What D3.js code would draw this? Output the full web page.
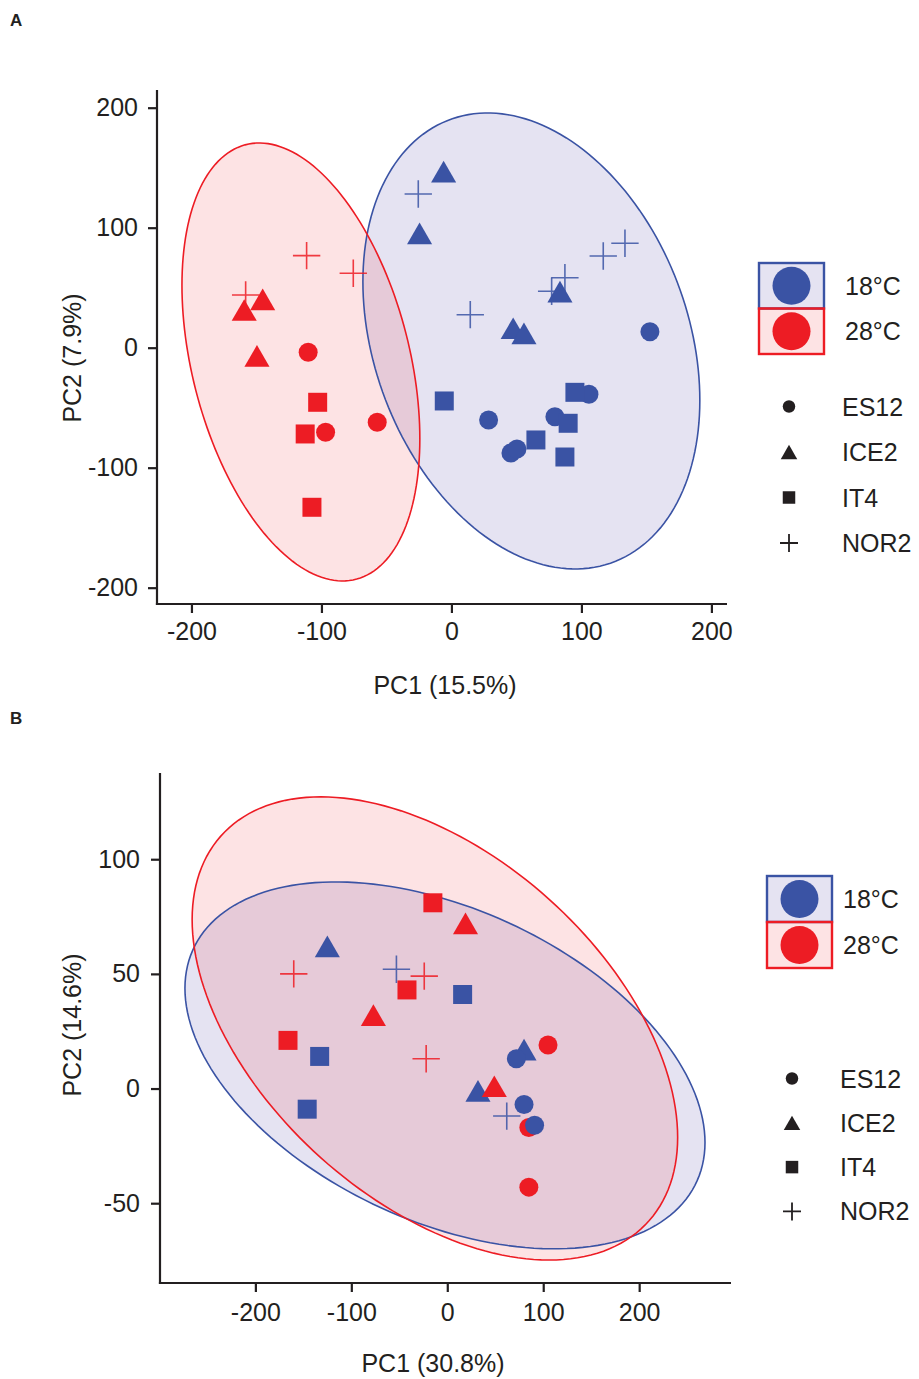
<!DOCTYPE html>
<html><head><meta charset="utf-8">
<script src="https://cdn.jsdelivr.net/npm/d3@7"></script>
<style>
body{margin:0;background:#fff}
text{font-family:"Liberation Sans",Arial,sans-serif;fill:#231f20}
</style>
</head><body>
<svg id="c" width="919" height="1379"></svg>
<script>
// ---------- shared ----------
const strains = ["ES12","ICE2","IT4","NOR2"];
const temps = ["18°C","28°C"];
const tempColors = ["#3a53a4","#ed1c24"];

// ---------- Panel A data ----------
const aXTicks = [-200,-100,0,100,200];
const aYTicks = [-200,-100,0,100,200];
const aTemp   = ["18°C","18°C","18°C","18°C","18°C","18°C",
                 "28°C","28°C","28°C",
                 "18°C","18°C","18°C","18°C","18°C",
                 "28°C","28°C","28°C",
                 "18°C","18°C","18°C","18°C","18°C","18°C",
                 "28°C","28°C","28°C",
                 "18°C","18°C","18°C","18°C","18°C",
                 "28°C","28°C","28°C"];
const aStrain = ["NOR2","NOR2","NOR2","NOR2","NOR2","NOR2",
                 "NOR2","NOR2","NOR2",
                 "ICE2","ICE2","ICE2","ICE2","ICE2",
                 "ICE2","ICE2","ICE2",
                 "ES12","ES12","ES12","ES12","ES12","ES12",
                 "ES12","ES12","ES12",
                 "IT4","IT4","IT4","IT4","IT4",
                 "IT4","IT4","IT4"];
const aPC1 = [-25.5,116.8,133.5,87.3,77.1,14.5,
              -158.3,-111.4,-75.5,
              -6,-24.5,83.5,47.5,55.8,
              -145.2,-159.4,-149.6,
              152.7,105.8,28.6,79.6,45.8,50.4,
              -110.2,-96.8,-57.1,
              -5.5,95,89.8,65,87.3,
              -102.9,-112.5,-107.3];
const aPC2 = [128.1,76.4,87,58.3,47,27.5,
              43.9,76.7,62,
              146.7,95.3,46.7,16.2,12,
              40.3,31.4,-6.9,
              13.3,-38.8,-60.3,-57.5,-87.8,-84.4,
              -3.8,-70.5,-62.2,
              -44.4,-37.2,-63,-76.9,-91.1,
              -45.5,-71.9,-133];
// confidence ellipses: centre, half-extents, correlation
const aEllTemp = ["18°C","28°C"];
const aEllCx = [61.5,-115.8];
const aEllCy = [5.6,-11.9];
const aEllRx = [129.6,91.5];
const aEllRy = [190,182.5];
const aEllR  = [-0.26,-0.35];

// ---------- Panel B data ----------
const bXTicks = [-200,-100,0,100,200];
const bYTicks = [-50,0,50,100];
const bTemp   = ["18°C","18°C","18°C",
                 "28°C","28°C","28°C",
                 "28°C","28°C","28°C",
                 "18°C","18°C",
                 "28°C","28°C","28°C",
                 "18°C","18°C","18°C",
                 "28°C","28°C","28°C",
                 "18°C","18°C","18°C"];
const bStrain = ["ICE2","ICE2","ICE2",
                 "ICE2","ICE2","ICE2",
                 "NOR2","NOR2","NOR2",
                 "NOR2","NOR2",
                 "IT4","IT4","IT4",
                 "IT4","IT4","IT4",
                 "ES12","ES12","ES12",
                 "ES12","ES12","ES12"];
const bPC1 = [-125,80,32,
              19,-77,49,
              -160,-24,-22,
              -53,62,
              -15,-42,-166,
              16,-133,-146,
              105,85,85,
              72,80,91];
const bPC2 = [62,17,-1,
              72,32,1,
              50,49,13,
              52,-12,
              81,43,21,
              41,14,-9,
              19,-17,-43,
              13,-7,-16];
const bEllTemp = ["18°C","28°C"];
const bEllCx = [-2.4,-12.9];
const bEllCy = [10.1,26.2];
const bEllRx = [271,253];
const bEllRy = [80,101];
const bEllR  = [-0.42,-0.47];

// ---------- drawing helpers ----------
const svg = d3.select("#c");
const colorOf = d3.scaleOrdinal().domain(temps).range(tempColors);
const fillOf = d3.scaleOrdinal().domain(temps).range(["rgba(100,90,180,0.17)","rgba(237,28,36,0.12)"]);

function shapePath(kind, s){
  if(kind==="ES12"){ const r=s/2; return `M${r},0A${r},${r} 0 1,1 ${-r},0A${r},${r} 0 1,1 ${r},0Z`; }
  if(kind==="ICE2"){ const w=s*1.32, h=w*0.866; return `M0,${-h/2}L${w/2},${h/2}L${-w/2},${h/2}Z`; }
  if(kind==="IT4"){ const a=s/2; return `M${-a},${-a}H${a}V${a}H${-a}Z`; }
  const c=s*0.72; return `M${-c},0H${c}M0,${-c}V${c}`;
}
function drawSymbol(g, kind, x, y, s, color){
  const p = g.append("path").attr("d", shapePath(kind, s)).attr("transform",`translate(${x},${y})`);
  if(kind==="NOR2") p.attr("fill","none").attr("stroke",color).attr("stroke-width",1.6).attr("stroke-opacity",0.85);
  else p.attr("fill",color);
  return p;
}
const fmt = d => String(d);

function panel(cfg){
  const g = svg.append("g");
  const x = d3.scaleLinear().domain(cfg.xDom).range(cfg.xRange);
  const y = d3.scaleLinear().domain(cfg.yDom).range(cfg.yRange);
  const line = d3.line().x(d=>x(d[0])).y(d=>y(d[1])).curve(d3.curveLinearClosed);
  const ells = cfg.ell.temp.map((t,i)=>{
    const pts = d3.range(0,360,2).map(a=>{
      const th = a*Math.PI/180, r = cfg.ell.r[i];
      return [cfg.ell.cx[i] + cfg.ell.rx[i]*Math.cos(th),
              cfg.ell.cy[i] + cfg.ell.ry[i]*(r*Math.cos(th) + Math.sqrt(1-r*r)*Math.sin(th))];
    });
    return {t, d: line(pts)};
  });
  ells.forEach(e=> g.append("path").attr("d",e.d).attr("fill",fillOf(e.t)).attr("stroke","none"));
  ells.forEach(e=> g.append("path").attr("d",e.d).attr("fill","none").attr("stroke",colorOf(e.t)).attr("stroke-width",1.6));
  cfg.pc1.forEach((v,i)=> drawSymbol(g, cfg.strain[i], x(v), y(cfg.pc2[i]), 19, colorOf(cfg.temp[i])));
  const ax = g.append("g").attr("transform",`translate(0,${cfg.yRange[0]})`)
    .call(d3.axisBottom(x).tickValues(cfg.xTicks).tickSize(9).tickSizeOuter(0).tickPadding(cfg.xPad).tickFormat(fmt));
  const ay = g.append("g").attr("transform",`translate(${cfg.xRange[0]},0)`)
    .call(d3.axisLeft(y).tickValues(cfg.yTicks).tickSize(9).tickSizeOuter(0).tickPadding(cfg.yPad).tickFormat(fmt));
  [ax,ay].forEach(a=>{
    a.selectAll("path,line").attr("stroke","#231f20").attr("stroke-width",2.2);
    a.selectAll("text").attr("font-size",25).attr("font-family","Liberation Sans, Arial, sans-serif").attr("fill","#231f20");
  });
  ay.select(".domain").attr("d",`M0,${cfg.yRange[1]}V${cfg.yRange[0]+1.1}`);
  ax.select(".domain").attr("d",`M${cfg.xRange[0]-1.1},0H${cfg.xRange[1]}`);
  g.append("text").attr("x",cfg.xTitle[0]).attr("y",cfg.xTitle[1]).attr("text-anchor","middle").attr("font-size",25).text(cfg.xLabel);
  g.append("text").attr("transform",`translate(${cfg.yTitle[0]},${cfg.yTitle[1]}) rotate(-90)`).attr("text-anchor","middle").attr("font-size",25).text(cfg.yLabel);
  g.append("text").attr("x",cfg.tag[0]).attr("y",cfg.tag[1]).attr("font-size",17).attr("font-weight","bold").attr("fill","#000").text(cfg.tagText);
  const L = cfg.leg;
  temps.forEach((t,i)=>{
    const by = L.boxY + i*L.boxH;
    g.append("rect").attr("x",L.boxX).attr("y",by).attr("width",L.boxW).attr("height",L.boxH)
      .attr("fill",fillOf(t)).attr("stroke",colorOf(t)).attr("stroke-width",2.4);
    g.append("circle").attr("cx",L.boxX+L.boxW/2).attr("cy",by+L.boxH/2).attr("r",19).attr("fill",colorOf(t));
    g.append("text").attr("x",L.textX).attr("y",by+L.boxH/2+9).attr("font-size",25).text(t);
  });
  strains.forEach((s,i)=>{
    const cy = L.shapeY + i*L.shapeStep;
    const p = drawSymbol(g, s, L.shapeX, cy, 12.5, "#231f20");
    if(s==="NOR2") p.attr("stroke-opacity",1).attr("stroke-width",1.8);
    g.append("text").attr("x",L.textX - 3).attr("y",cy+9).attr("font-size",25).text(s);
  });
}

panel({
  xDom:[-226.5,212], xRange:[157,727], yDom:[-213.6,214.75], yRange:[604,90],
  xTicks:aXTicks, yTicks:aYTicks, xPad:9, yPad:10,
  pc1:aPC1, pc2:aPC2, temp:aTemp, strain:aStrain,
  ell:{temp:aEllTemp,cx:aEllCx,cy:aEllCy,rx:aEllRx,ry:aEllRy,r:aEllR},
  xLabel:"PC1 (15.5%)", yLabel:"PC2 (7.9%)", xTitle:[445,694], yTitle:[81,358],
  tag:[10,26], tagText:"A",
  leg:{boxX:759,boxY:263,boxW:65,boxH:45.5,textX:845,shapeX:789,shapeY:406.5,shapeStep:45.5}
});
panel({
  xDom:[-299.4,295.7], xRange:[160,731], yDom:[-84.8,137.6], yRange:[1283,773],
  xTicks:bXTicks, yTicks:bYTicks, xPad:11, yPad:11,
  pc1:bPC1, pc2:bPC2, temp:bTemp, strain:bStrain,
  ell:{temp:bEllTemp,cx:bEllCx,cy:bEllCy,rx:bEllRx,ry:bEllRy,r:bEllR},
  xLabel:"PC1 (30.8%)", yLabel:"PC2 (14.6%)", xTitle:[433,1372], yTitle:[81,1025],
  tag:[10,724], tagText:"B",
  leg:{boxX:767,boxY:876,boxW:65,boxH:46,textX:843,shapeX:792,shapeY:1078.5,shapeStep:44.3}
});
</script>
</body></html>
